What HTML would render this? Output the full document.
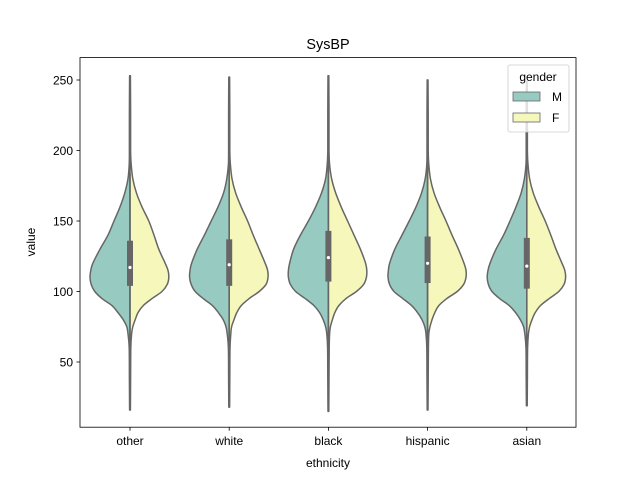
<!DOCTYPE html>
<html><head><meta charset="utf-8"><style>
body{margin:0;background:#fff}
svg{font-family:"Liberation Sans","DejaVu Sans",sans-serif}
</style></head><body>
<svg id="chart" width="640" height="480" viewBox="0 0 640 480">
<rect width="640" height="480" fill="#fff"/>
<g id="plot"></g>
<rect x="80" y="57.6" width="496" height="369.6" fill="none" stroke="#000" stroke-width="0.8"/>
<g id="axes"></g>
<text x="328" y="49" font-size="14.4" text-anchor="middle">SysBP</text>
<text x="328" y="467" font-size="12" text-anchor="middle">ethnicity</text>
<text transform="translate(35,242) rotate(-90)" font-size="12" text-anchor="middle">value</text>
<g>
<rect x="508" y="65" width="61" height="67" rx="2" fill="#fff" fill-opacity="0.8" stroke="#ccc" stroke-width="0.8"/>
<text x="538" y="81" font-size="12" text-anchor="middle">gender</text>
<rect x="513" y="92" width="27" height="9" fill="#97cbc1" stroke="#666" stroke-width="0.8"/>
<text x="552" y="101" font-size="12">M</text>
<rect x="513" y="113" width="27" height="9" fill="#f6f7bb" stroke="#666" stroke-width="0.8"/>
<text x="552" y="122" font-size="12">F</text>
</g>
</svg>
<script>
const categories=["other","white","black","hispanic","asian"];
const yTicks=[50,100,150,200,250];
const grid=[60,70,75,80,85,90,95,100,105,110,115,120,130,140,150,160,170,180,190,200];
const densM=[
[0.02,0.05,0.08,0.17,0.3,0.45,0.7,0.88,0.97,1.0,0.98,0.93,0.75,0.55,0.4,0.25,0.13,0.05,0.02,0.01],
[0.02,0.05,0.08,0.15,0.27,0.42,0.65,0.85,0.95,0.99,0.98,0.94,0.8,0.62,0.45,0.28,0.14,0.06,0.02,0.01],
[0.02,0.04,0.07,0.13,0.22,0.36,0.58,0.82,0.95,1.0,1.0,0.97,0.87,0.7,0.5,0.32,0.17,0.07,0.03,0.01],
[0.02,0.04,0.07,0.14,0.25,0.4,0.62,0.84,0.95,0.99,0.98,0.95,0.82,0.64,0.46,0.29,0.15,0.06,0.02,0.01],
[0.02,0.05,0.08,0.16,0.28,0.44,0.68,0.87,0.96,0.99,0.97,0.92,0.77,0.58,0.42,0.27,0.14,0.06,0.02,0.01]];
const densF=[
[0.02,0.04,0.07,0.13,0.2,0.33,0.55,0.8,0.93,0.97,0.95,0.88,0.72,0.6,0.47,0.3,0.16,0.07,0.03,0.01],
[0.02,0.04,0.06,0.12,0.19,0.3,0.5,0.75,0.92,0.97,0.96,0.9,0.75,0.6,0.46,0.3,0.16,0.07,0.03,0.01],
[0.02,0.03,0.05,0.1,0.16,0.26,0.44,0.7,0.88,0.95,0.96,0.93,0.8,0.64,0.48,0.32,0.18,0.08,0.03,0.01],
[0.02,0.03,0.06,0.11,0.18,0.28,0.48,0.74,0.9,0.96,0.96,0.91,0.77,0.61,0.46,0.3,0.16,0.07,0.03,0.01],
[0.02,0.04,0.07,0.13,0.21,0.34,0.56,0.8,0.93,0.97,0.95,0.88,0.73,0.6,0.46,0.3,0.16,0.07,0.03,0.01]];
const mins=[16,18,15,16,19];
const maxs=[253,252,253,250,249];
const q1=[104,104,107,106,102];
const q3=[136,137,143,139,138];
const medians=[117,119,124,120,118];
const ns="http://www.w3.org/2000/svg";
const plot=document.getElementById('plot'),axes=document.getElementById('axes');
const yS=v=>80+(250-v)*1.41;
const xS=i=>130+i*99.2;
const HALF=40;
function mk(t,a,p){const e=document.createElementNS(ns,t);for(const k in a)e.setAttribute(k,a[k]);(p||plot).appendChild(e);return e;}
function cr(pts){let d=`M${pts[0][0]},${pts[0][1]}`;for(let i=0;i<pts.length-1;i++){const p0=pts[Math.max(0,i-1)],p1=pts[i],p2=pts[i+1],p3=pts[Math.min(pts.length-1,i+2)];d+=` C${p1[0]+(p2[0]-p0[0])/6},${p1[1]+(p2[1]-p0[1])/6} ${p2[0]-(p3[0]-p1[0])/6},${p2[1]-(p3[1]-p1[1])/6} ${p2[0]},${p2[1]}`;}return d;}
categories.forEach((c,i)=>{
  const cx=xS(i);
  [[densM[i],-1,'#97cbc1','m'],[densF[i],1,'#f6f7bb','f']].forEach(([dn,s,col,g])=>{
    const pts=[[cx+s*0.4,yS(mins[i])]];
    pts.push([cx+s*0.6,yS((mins[i]+grid[0])/2)]);
    grid.forEach((v,k)=>pts.push([cx+s*Math.max(dn[k],0.015)*HALF,yS(v)]));
    pts.push([cx+s*0.6,yS((maxs[i]+200)/2)]);
    pts.push([cx+s*0.4,yS(maxs[i])]);
    const d=cr(pts)+` L${cx},${yS(maxs[i])} L${cx},${yS(mins[i])} Z`;
    const p=mk('path',{d,fill:col,stroke:'#666','stroke-width':1.5,'stroke-linejoin':'round'});
    
    
  });
  const iqr=q3[i]-q1[i];
  const wl=mk('line',{x1:cx,x2:cx,y1:yS(Math.min(maxs[i],q3[i]+1.5*iqr)),y2:yS(Math.max(mins[i],q1[i]-1.5*iqr)),stroke:'#666','stroke-width':1.5});
  
  
  const b=mk('rect',{x:cx-3,y:yS(q3[i]),width:6,height:yS(q1[i])-yS(q3[i]),fill:'#666'});
  
  
  const m=mk('circle',{cx:cx,cy:yS(medians[i]),r:1.6,fill:'#fff'});
  
  
  const t=mk('line',{x1:cx,x2:cx,y1:427.2,y2:430.7,stroke:'#000','stroke-width':0.8},axes);
  
  
  const tl=mk('text',{x:cx,y:445,'font-size':12,'text-anchor':'middle'},axes);
  tl.textContent=c;
  
  
});
yTicks.forEach(v=>{
  const y=yS(v);
  const t=mk('line',{x1:76.5,x2:80,y1:y,y2:y,stroke:'#000','stroke-width':0.8},axes);
  
  
  const tl=mk('text',{x:73,y:y+4.3,'font-size':12,'text-anchor':'end'},axes);
  tl.textContent=v;
  
  
});
</script>
</body></html>
